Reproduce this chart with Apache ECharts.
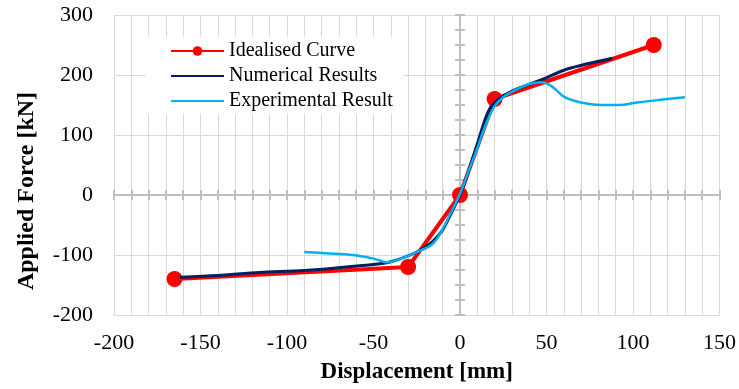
<!DOCTYPE html>
<html><head><meta charset="utf-8">
<script src="https://cdn.jsdelivr.net/npm/echarts@6/dist/echarts.min.js"></script>
<style>html,body{margin:0;padding:0;background:#fff}#c{width:739px;height:389px}</style>
</head><body><div id="c"></div>
<script>
const seriesNames = ['Idealised Curve', 'Numerical Results', 'Experimental Result'];
const xTitle = 'Displacement [mm]';
const yTitle = 'Applied Force [kN]';

const idealised = [[-165, -140], [-30, -120], [0, 0], [20, 160], [112, 250]];
const numerical = [[-162, -137], [-140, -134], [-116, -129], [-90, -126], [-58, -118], [-41, -112], [-25, -95], [-16, -78], [-10, -58], [-5, -30], [0, 0], [5, 40], [10, 85], [17, 143], [25, 165], [33, 177], [48, 193], [62, 210], [88, 228]];
const experimental = [[-90, -95], [-78, -97], [-62, -100], [-50, -106], [-42, -112], [-33, -105], [-25, -95], [-16, -82], [-10, -57], [-5, -28], [0, 2], [5, 40], [10, 78], [15, 118], [20, 148], [25, 163], [30, 172], [40, 185], [47, 188], [52, 183], [56, 174], [60, 164], [66, 157], [74, 152], [82, 150], [92, 150], [102, 154], [117, 159], [130, 163]];

const FONT = '"Liberation Serif","Times New Roman",serif';
const GRID_C = '#D9D9D9';
const AXIS_C = '#BFBFBF';

function tickAxis(dim, inside) {
  return {
    type: 'value',
    position: dim === 'x' ? 'bottom' : 'left',
    min: -200,
    max: dim === 'x' ? 150 : 300,
    interval: dim === 'x' ? 10 : 25,
    axisLine: {show: true, onZero: true, onZeroAxisIndex: 0, lineStyle: {color: AXIS_C, width: 2}},
    axisTick: {show: true, inside: inside, length: 5, lineStyle: {color: AXIS_C, width: 2}},
    axisLabel: {show: false},
    splitLine: {show: false}
  };
}

const chart = echarts.init(document.getElementById('c'));
chart.setOption({
  animation: false,
  backgroundColor: '#fff',
  grid: {left: 114, right: 19, top: 15, bottom: 73},
  xAxis: [
    {
      type: 'value', min: -200, max: 150, interval: 50, position: 'bottom',
      axisLine: {show: false, onZero: false},
      axisTick: {show: false},
      axisLabel: {fontFamily: FONT, fontSize: 22, color: '#000', margin: 17},
      splitLine: {show: true, lineStyle: {color: GRID_C, width: 1}},
      minorTick: {show: false, splitNumber: 5},
      minorSplitLine: {show: true, lineStyle: {color: GRID_C, width: 1}},
      name: xTitle, nameLocation: 'middle', nameGap: 46,
      nameTextStyle: {fontFamily: FONT, fontSize: 23, fontWeight: 'bold', color: '#000'}
    },
    tickAxis('x', true),
    tickAxis('x', false)
  ],
  yAxis: [
    {
      type: 'value', min: -200, max: 300, interval: 100, position: 'left',
      axisLine: {show: false, onZero: false},
      axisTick: {show: false},
      axisLabel: {fontFamily: FONT, fontSize: 22, color: '#000', margin: 21},
      splitLine: {show: true, lineStyle: {color: GRID_C, width: 1}}
    },
    tickAxis('y', true),
    tickAxis('y', false)
  ],
  graphic: [{
    type: 'text', x: 27, y: 191, rotation: Math.PI / 2,
    style: {text: yTitle, font: 'bold 24px "Liberation Serif", serif', fill: '#000', textAlign: 'center', textVerticalAlign: 'middle'}
  }],
  legend: {
    orient: 'vertical', left: 146, top: 37,
    backgroundColor: '#fff',
    padding: [4, 10, 3, 24],
    itemGap: 5, itemWidth: 53, itemHeight: 12,
    textStyle: {fontFamily: FONT, fontSize: 20, color: '#000', lineHeight: 20},
    data: [
      {name: seriesNames[0]},
      {name: seriesNames[1], itemStyle: {opacity: 0}},
      {name: seriesNames[2], itemStyle: {opacity: 0}}
    ]
  },
  series: [
    {
      name: seriesNames[0], type: 'line', data: idealised,
      symbol: 'circle', symbolSize: 16, showSymbol: true,
      lineStyle: {color: '#FF0000', width: 4}, itemStyle: {color: '#FF0000'}, z: 2
    },
    {
      name: seriesNames[1], type: 'line', data: numerical, smooth: 0.3,
      symbol: 'none', lineStyle: {color: '#002060', width: 3}, itemStyle: {color: '#002060'}, z: 3
    },
    {
      name: seriesNames[2], type: 'line', data: experimental, smooth: 0.4,
      symbol: 'none', lineStyle: {color: '#00B0F0', width: 2.5}, itemStyle: {color: '#00B0F0'}, z: 4
    }
  ]
});
</script></body></html>
